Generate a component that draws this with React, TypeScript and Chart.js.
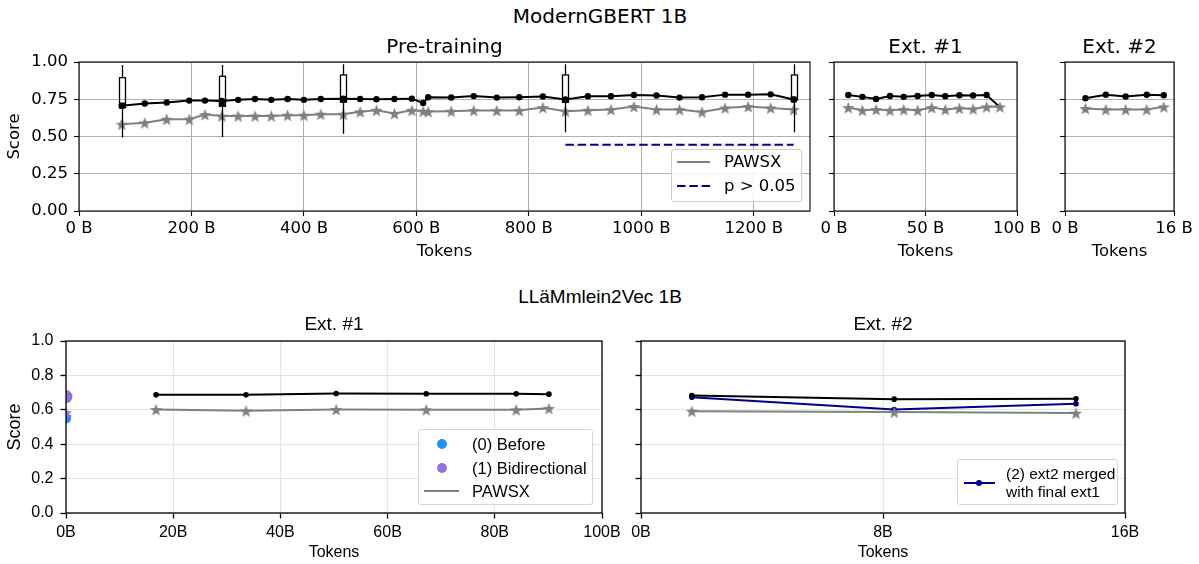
import React, { useEffect, useRef } from "react";
import { Chart, registerables } from "chart.js";
Chart.register(...registerables);

// ---------------- Data: ModernGBERT 1B ----------------
const pretrainTokens = [76, 117, 156, 196, 224, 254, 283, 313, 342, 371, 400, 430, 470, 500, 529, 561, 592, 612, 621, 662, 702, 743, 783, 825, 865, 905, 946, 987, 1027, 1068, 1108, 1149, 1190, 1230, 1271];
const pretrainScore = [0.707, 0.721, 0.728, 0.741, 0.741, 0.739, 0.746, 0.752, 0.746, 0.752, 0.746, 0.752, 0.754, 0.752, 0.75, 0.752, 0.754, 0.725, 0.763, 0.762, 0.771, 0.761, 0.763, 0.768, 0.748, 0.77, 0.77, 0.779, 0.775, 0.761, 0.763, 0.781, 0.781, 0.783, 0.748];
const pretrainPawsx = [0.583, 0.592, 0.616, 0.616, 0.647, 0.638, 0.638, 0.638, 0.638, 0.643, 0.643, 0.65, 0.65, 0.666, 0.676, 0.654, 0.676, 0.67, 0.667, 0.67, 0.675, 0.674, 0.674, 0.694, 0.67, 0.676, 0.681, 0.701, 0.681, 0.681, 0.665, 0.692, 0.701, 0.692, 0.681];
const boxTokens = [77, 254, 470, 865, 1271];
const boxLow = [0.493, 0.497, 0.518, 0.529, 0.529];
const boxQ1 = [0.694, 0.703, 0.73, 0.73, 0.745];
const boxQ3 = [0.895, 0.904, 0.913, 0.913, 0.913];
const boxHigh = [0.98, 0.98, 0.985, 0.985, 0.985];
const boxMarker = [0.707, 0.72, 0.752, 0.745, 0.748];
const pValueTokens = [865, 1271];
const pValueLevel = [0.445, 0.445];

const ext1Tokens = [7.8, 15.5, 23, 30.6, 38.1, 45.7, 53.4, 60.8, 68.5, 76, 83.4, 90.7];
const ext1Score = [0.779, 0.766, 0.752, 0.772, 0.766, 0.772, 0.779, 0.77, 0.777, 0.775, 0.779, 0.697];
const ext1Pawsx = [0.694, 0.676, 0.681, 0.676, 0.681, 0.676, 0.694, 0.681, 0.69, 0.685, 0.699, 0.699];

const ext2Tokens = [3.0, 6.0, 8.9, 12.0, 14.5];
const ext2Score = [0.757, 0.78, 0.768, 0.78, 0.777];
const ext2Pawsx = [0.688, 0.681, 0.681, 0.681, 0.699];

const pretrainTicks = [0, 200, 400, 600, 800, 1000, 1200];
const ext1Ticks = [0, 50, 100];
const ext2Ticks = [0, 16];
const topScoreTicks = [0, 0.25, 0.5, 0.75, 1.0];

// ---------------- Data: LLäMmlein2Vec 1B ----------------
const llExt1Tokens = [16.8, 33.6, 50.4, 67.2, 84.0, 90.1];
const llExt1Score = [0.687, 0.687, 0.695, 0.693, 0.693, 0.691];
const llExt1Pawsx = [0.602, 0.594, 0.602, 0.6, 0.6, 0.608];
const beforeTokens = [0];
const beforeScore = [0.55];
const beforePawsx = [0.562];
const bidirTokens = [0];
const bidirScore = [0.677];
const bidirPawsx = [0.583];

const llExt2Tokens = [1.68, 8.37, 14.38];
const llExt2Score = [0.683, 0.662, 0.664];
const llExt2Merged = [0.673, 0.602, 0.635];
const llExt2Pawsx = [0.592, 0.587, 0.581];

const llExt1Ticks = [0, 20, 40, 60, 80, 100];
const llExt2Ticks = [0, 8, 16];
const bottomScoreTicks = [0, 0.2, 0.4, 0.6, 0.8, 1.0];

// ---------------- Styling ----------------
const DEJAVU = '"DejaVu Sans", sans-serif';
const ARIAL = '"Liberation Sans", Arial, sans-serif';
const GRAY = "#808080";
const NAVY = "#00008b";
const BLUE = "#1e90ff";
const PURPLE = "#9370db";

function makeStar(color: string, outer: number, inner: number) {
  const size = Math.ceil(outer * 2 + 2);
  const c = document.createElement("canvas");
  c.width = size;
  c.height = size;
  const ctx = c.getContext("2d")!;
  ctx.fillStyle = color;
  ctx.beginPath();
  for (let i = 0; i < 10; i++) {
    const r = i % 2 === 0 ? outer : inner;
    const a = -Math.PI / 2 + (i * Math.PI) / 5;
    const x = size / 2 + r * Math.cos(a);
    const y = size / 2 + r * Math.sin(a) + 0.7;
    if (i === 0) ctx.moveTo(x, y);
    else ctx.lineTo(x, y);
  }
  ctx.closePath();
  ctx.fill();
  return c;
}

const framePlugin = {
  id: "frame",
  afterDatasetsDraw(chart: any, _a: any, opts: any) {
    const { ctx, chartArea: a } = chart;
    ctx.save();
    ctx.strokeStyle = opts.color || "#000";
    ctx.lineWidth = opts.width || 1;
    ctx.strokeRect(a.left, a.top, a.right - a.left, a.bottom - a.top);
    ctx.restore();
  },
};

const boxPlugin = {
  id: "boxes",
  afterDatasetsDraw(chart: any, _a: any, opts: any) {
    if (!opts || !opts.x) return;
    const { ctx } = chart;
    const xs = chart.scales.x;
    const ys = chart.scales.y;
    ctx.save();
    ctx.strokeStyle = "#000";
    ctx.lineWidth = 1.3;
    opts.x.forEach((xv: number, i: number) => {
      const px = Math.round(xs.getPixelForValue(xv)) + 0.5;
      const w = opts.halfWidth;
      const yl = ys.getPixelForValue(opts.low[i]);
      const y1 = ys.getPixelForValue(opts.q1[i]);
      const y3 = ys.getPixelForValue(opts.q3[i]);
      const yh = ys.getPixelForValue(opts.high[i]);
      ctx.beginPath();
      ctx.moveTo(px, yh);
      ctx.lineTo(px, y3);
      ctx.moveTo(px, y1);
      ctx.lineTo(px, yl);
      ctx.stroke();
      ctx.strokeRect(px - w, y3, 2 * w, y1 - y3);
    });
    ctx.restore();
  },
};

function line(xs: number[], ys: number[], o: any) {
  return {
    type: "line",
    data: xs.map((x, i) => ({ x, y: ys[i] })),
    borderColor: o.color,
    backgroundColor: o.color,
    borderWidth: o.lw ?? 2,
    borderDash: o.dash || [],
    pointStyle: o.point ?? "circle",
    pointRadius: o.r ?? 0,
    pointBackgroundColor: o.color,
    pointBorderColor: o.color,
    pointBorderWidth: 0,
    showLine: o.showLine ?? true,
    tension: 0,
    clip: 0,
  };
}

function axisX(o: any) {
  return {
    type: "linear",
    min: o.min,
    max: o.max,
    afterBuildTicks: (s: any) => {
      s.ticks = o.ticks.map((v: number) => ({ value: v }));
    },
    afterFit: (s: any) => {
      s.height = o.h;
      s.paddingLeft = 0;
      s.paddingRight = 0;
    },
    ticks: {
      autoSkip: false,
      maxRotation: 0,
      minRotation: 0,
      padding: o.pad,
      color: "#000",
      font: { family: o.family, size: o.size },
      callback: (v: number) => o.fmt(v),
    },
    grid: { color: o.grid, lineWidth: 1, tickLength: o.tl, tickColor: "#000", tickWidth: o.tw, drawTicks: true },
    border: { display: false },
    title: {
      display: true,
      text: "Tokens",
      color: "#000",
      font: { family: o.family, size: o.titleSize },
      padding: { top: 0, bottom: o.titlePad },
    },
  };
}

function axisY(o: any) {
  return {
    type: "linear",
    min: 0,
    max: 1,
    afterBuildTicks: (s: any) => {
      s.ticks = o.ticks.map((v: number) => ({ value: v }));
    },
    afterFit: (s: any) => {
      s.width = o.w;
      s.paddingTop = 0;
      s.paddingBottom = 0;
    },
    ticks: {
      padding: o.pad,
      color: "#000",
      font: { family: o.family, size: o.size },
      callback: (v: number) => (o.labels ? o.fmt(v) : ""),
    },
    grid: { color: o.grid, lineWidth: 1, tickLength: o.tl, tickColor: "#000", tickWidth: o.tw, drawTicks: true },
    border: { display: false },
    title: o.title
      ? {
          display: true,
          text: "Score",
          color: "#000",
          font: { family: o.family, size: o.titleSize },
          padding: { top: o.titlePad, bottom: 0 },
        }
      : { display: false },
  };
}

function baseOptions(padTop: number, padRight: number, frameWidth: number, scales: any, boxes?: any) {
  return {
    responsive: false,
    maintainAspectRatio: false,
    animation: false,
    devicePixelRatio: 1,
    events: [],
    layout: { padding: { left: 0, top: padTop, right: padRight, bottom: 0 } },
    plugins: {
      legend: { display: false },
      tooltip: { enabled: false },
      title: { display: false },
      frame: { color: "#000", width: frameWidth },
      boxes: boxes || {},
    },
    scales,
  };
}

const topTick = { family: DEJAVU, size: 16.5, titleSize: 16.5, grid: "#b0b0b0", tl: 5, tw: 1.1 };
const botTickX = { family: ARIAL, size: 16, titleSize: 16, grid: "#e4e4e4", tl: 5.5, tw: 1.3 };
const botTickY = { family: ARIAL, size: 16, titleSize: 18, grid: "#e4e4e4", tl: 5.5, tw: 1.3 };

function ChartPanel({ left, top, width, height, make }: any) {
  const ref = useRef<HTMLCanvasElement | null>(null);
  useEffect(() => {
    const chart = new Chart(ref.current as any, make());
    return () => chart.destroy();
  }, []);
  return (
    <canvas
      ref={ref}
      width={width}
      height={height}
      style={{ position: "absolute", left, top, width, height }}
    />
  );
}

function Txt({ x, y, size, family, children, anchor = "center" }: any) {
  return (
    <div
      style={{
        position: "absolute",
        left: x,
        top: y,
        transform: anchor === "center" ? "translate(-50%,-50%)" : "translate(0,-50%)",
        fontSize: size,
        fontFamily: family,
        lineHeight: 1,
        whiteSpace: "nowrap",
        color: "#000",
      }}
    >
      {children}
    </div>
  );
}

export default function App() {
  const grayStar = makeStar(GRAY, 6.5, 2.7);
  const blueStar = makeStar(BLUE, 6.5, 2.7);
  const purpleStar = makeStar(PURPLE, 6.5, 2.7);

  const pretrain = () => ({
    type: "line",
    data: {
      datasets: [
        line(boxTokens, boxMarker, { color: "#000", point: "rect", r: 4.2, showLine: false, lw: 0 }),
        line(pretrainTokens, pretrainPawsx, { color: GRAY, point: grayStar, r: 5 }),
        line(pretrainTokens, pretrainScore, { color: "#000", r: 3.2 }),
        line(pValueTokens, pValueLevel, { color: NAVY, dash: [8.5, 3.8], r: 0 }),
      ],
    },
    options: baseOptions(
      12,
      20,
      1.1,
      {
        x: axisX({ ...topTick, min: 0, max: 1300, ticks: pretrainTicks, fmt: (v: number) => `${v} B`, h: 54, pad: 2.6, titlePad: 3.6 }),
        y: axisY({ ...topTick, ticks: topScoreTicks, fmt: (v: number) => v.toFixed(2), w: 79, pad: 6, labels: true, title: true, titlePad: 5 }),
      },
      { x: boxTokens, low: boxLow, q1: boxQ1, q3: boxQ3, high: boxHigh, halfWidth: 3 }
    ),
    plugins: [boxPlugin, framePlugin],
  });

  const ext1 = () => ({
    type: "line",
    data: {
      datasets: [
        line(ext1Tokens, ext1Pawsx, { color: GRAY, point: grayStar, r: 5 }),
        line(ext1Tokens.slice(0, -1), ext1Score.slice(0, -1), { color: "#000", r: 3.2, showLine: false }),
        line(ext1Tokens, ext1Score, { color: "#000", r: 0 }),
      ],
    },
    options: baseOptions(12, 23, 1.1, {
      x: axisX({ ...topTick, min: 0, max: 100, ticks: ext1Ticks, fmt: (v: number) => `${v} B`, h: 54, pad: 2.6, titlePad: 3.6 }),
      y: axisY({ ...topTick, ticks: topScoreTicks, fmt: (v: number) => v.toFixed(2), w: 34, pad: 6, labels: false, title: false }),
    }),
    plugins: [framePlugin],
  });

  const ext2 = () => ({
    type: "line",
    data: {
      datasets: [
        line(ext2Tokens, ext2Pawsx, { color: GRAY, point: grayStar, r: 5 }),
        line(ext2Tokens, ext2Score, { color: "#000", r: 3.2 }),
      ],
    },
    options: baseOptions(12, 25, 1.1, {
      x: axisX({ ...topTick, min: 0, max: 16, ticks: ext2Ticks, fmt: (v: number) => `${v} B`, h: 54, pad: 2.6, titlePad: 3.6 }),
      y: axisY({ ...topTick, ticks: topScoreTicks, fmt: (v: number) => v.toFixed(2), w: 25, pad: 6, labels: false, title: false }),
    }),
    plugins: [framePlugin],
  });

  const llExt1 = () => ({
    type: "line",
    data: {
      datasets: [
        line(bidirTokens, bidirScore, { color: PURPLE, r: 6.5, showLine: false }),
        line(bidirTokens, bidirPawsx, { color: PURPLE, point: purpleStar, r: 5, showLine: false }),
        line(beforeTokens, beforePawsx, { color: BLUE, point: blueStar, r: 5, showLine: false }),
        line(beforeTokens, beforeScore, { color: BLUE, r: 5, showLine: false }),
        line(llExt1Tokens, llExt1Pawsx, { color: GRAY, point: grayStar, r: 5 }),
        line(llExt1Tokens, llExt1Score, { color: "#000", r: 2.8 }),
      ],
    },
    options: baseOptions(11, 23, 1.3, {
      x: axisX({ ...botTickX, min: 0, max: 100, ticks: llExt1Ticks, fmt: (v: number) => `${v}B`, h: 51, pad: 4.4, titlePad: 1.4 }),
      y: axisY({ ...botTickY, ticks: bottomScoreTicks, fmt: (v: number) => v.toFixed(1), w: 66, pad: 7, labels: true, title: true, titlePad: 4.2 }),
    }),
    plugins: [framePlugin],
  });

  const llExt2 = () => ({
    type: "line",
    data: {
      datasets: [
        line(llExt2Tokens, llExt2Pawsx, { color: GRAY, point: grayStar, r: 5 }),
        line(llExt2Tokens, llExt2Score, { color: "#000", r: 2.8 }),
        line(llExt2Tokens, llExt2Merged, { color: NAVY, r: 2.8 }),
      ],
    },
    options: baseOptions(11, 74, 1.3, {
      x: axisX({ ...botTickX, min: 0, max: 16, ticks: llExt2Ticks, fmt: (v: number) => `${v}B`, h: 51, pad: 4.4, titlePad: 1.4 }),
      y: axisY({ ...botTickY, ticks: bottomScoreTicks, fmt: (v: number) => v.toFixed(1), w: 21, pad: 7, labels: false, title: false }),
    }),
    plugins: [framePlugin],
  });

  return (
    <div style={{ position: "absolute", left: 0, top: 0, width: 1199, height: 564, background: "#fff", overflow: "hidden" }}>
      <ChartPanel left={0} top={50} width={830} height={215} make={pretrain} />
      <ChartPanel left={800} top={50} width={240} height={215} make={ext1} />
      <ChartPanel left={1040} top={50} width={159} height={215} make={ext2} />
      <ChartPanel left={0} top={330} width={625} height={234} make={llExt1} />
      <ChartPanel left={620} top={330} width={579} height={234} make={llExt2} />

      <Txt x={600} y={16} size={20} family={DEJAVU}>ModernGBERT 1B</Txt>
      <Txt x={444.5} y={46} size={20} family={DEJAVU}>Pre-training</Txt>
      <Txt x={925.5} y={46} size={20} family={DEJAVU}>Ext. #1</Txt>
      <Txt x={1119.5} y={46} size={20} family={DEJAVU}>Ext. #2</Txt>

      <Txt x={600} y={296} size={19} family={ARIAL}>LLäMmlein2Vec 1B</Txt>
      <Txt x={334} y={323} size={19} family={ARIAL}>Ext. #1</Txt>
      <Txt x={883} y={323} size={19} family={ARIAL}>Ext. #2</Txt>

      {/* Pre-training legend */}
      <div style={{ position: "absolute", left: 671, top: 149, width: 131, height: 53, boxSizing: "border-box", border: "1px solid #cfcfcf", borderRadius: 3, background: "rgba(255,255,255,0.85)" }}>
        <div style={{ position: "absolute", left: 5, top: 10.5, width: 33, height: 2, background: GRAY }} />
        <svg style={{ position: "absolute", left: 5, top: 34 }} width={34} height={4}>
          <line x1={0} y1={2} x2={34} y2={2} stroke={NAVY} strokeWidth={2} strokeDasharray="8.5 3.8" />
        </svg>
        <Txt x={52} y={11.5} size={16.5} family={DEJAVU} anchor="left">PAWSX</Txt>
        <Txt x={52} y={36} size={16.5} family={DEJAVU} anchor="left">p &gt; 0.05</Txt>
      </div>

      {/* LLäMmlein Ext.#1 legend */}
      <div style={{ position: "absolute", left: 418, top: 429, width: 175, height: 76, boxSizing: "border-box", border: "1px solid #d6d6d6", borderRadius: 3, background: "rgba(255,255,255,0.85)" }}>
        <div style={{ position: "absolute", left: 18, top: 8.5, width: 10, height: 10, borderRadius: "50%", background: BLUE }} />
        <div style={{ position: "absolute", left: 18, top: 32.5, width: 10, height: 10, borderRadius: "50%", background: PURPLE }} />
        <div style={{ position: "absolute", left: 5, top: 60, width: 35, height: 2, background: GRAY }} />
        <Txt x={53} y={13.5} size={16.5} family={ARIAL} anchor="left">(0) Before</Txt>
        <Txt x={53} y={37.5} size={16.5} family={ARIAL} anchor="left">(1) Bidirectional</Txt>
        <Txt x={53} y={61} size={16.5} family={ARIAL} anchor="left">PAWSX</Txt>
      </div>

      {/* LLäMmlein Ext.#2 legend */}
      <div style={{ position: "absolute", left: 957, top: 459, width: 161, height: 46, boxSizing: "border-box", border: "1px solid #d6d6d6", borderRadius: 3, background: "rgba(255,255,255,0.85)" }}>
        <div style={{ position: "absolute", left: 5.5, top: 22, width: 31, height: 2, background: NAVY }} />
        <div style={{ position: "absolute", left: 18, top: 20, width: 6, height: 6, borderRadius: "50%", background: NAVY }} />
        <Txt x={48} y={14} size={15.5} family={ARIAL} anchor="left">(2) ext2 merged</Txt>
        <Txt x={48} y={32} size={15.5} family={ARIAL} anchor="left">with final ext1</Txt>
      </div>
    </div>
  );
}
